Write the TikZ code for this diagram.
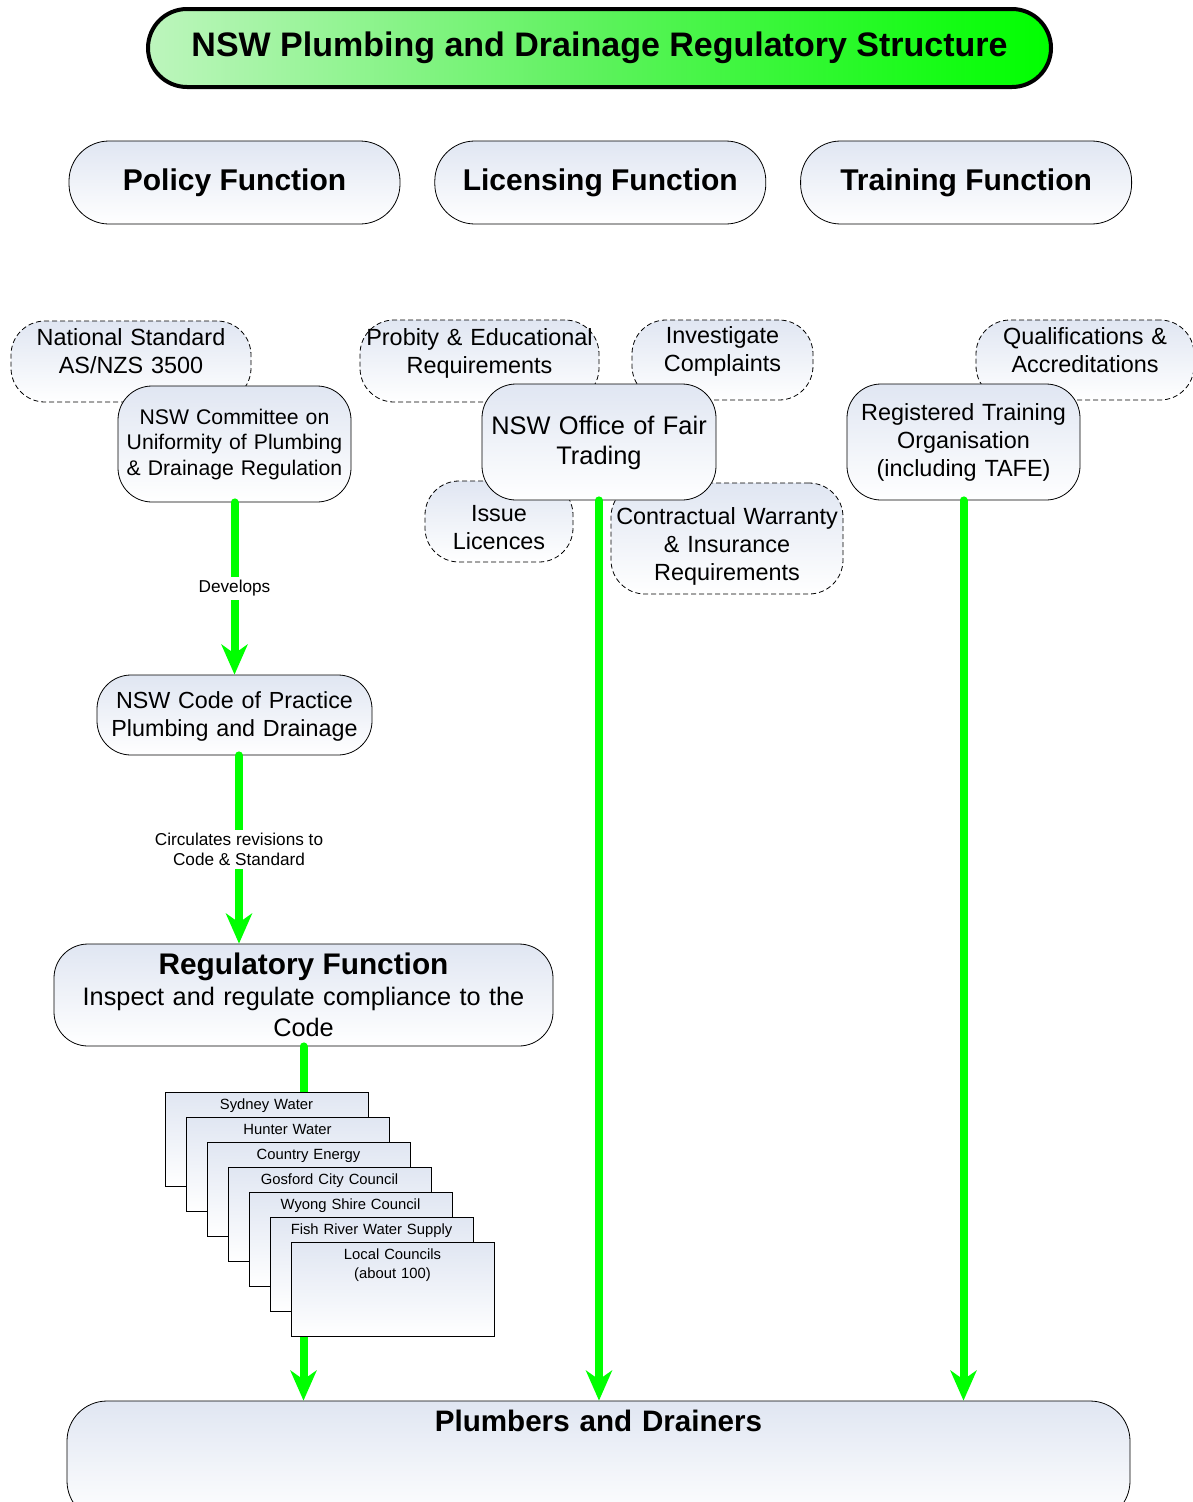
\documentclass[tikz,border=0pt]{standalone}
\usepackage{fontspec}
\setmainfont{Liberation Sans}
\usetikzlibrary{arrows.meta, positioning}
\definecolor{FlowGreen}{HTML}{00FF00}
\definecolor{TitleLight}{HTML}{BDF5BD}
\definecolor{TitleMid}{HTML}{5CF25C}
\definecolor{TitleGreen}{HTML}{00FF00}
\definecolor{BoxTint}{HTML}{E0E6F2}

\begin{document}
\begin{tikzpicture}[x=1pt, y=-1pt, >=Stealth,
        every node/.style={inner sep=0pt},
        titlebox/.style={draw=black, line width=4pt, rounded corners=39pt, minimum width=903pt, minimum height=78pt, left color=TitleLight, right color=TitleGreen, middle color=TitleMid, font=\fontsize{34}{38}\selectfont\bfseries},
        funcbox/.style={draw=black, line width=0.8pt, rounded corners=40pt, minimum width=331pt, minimum height=83pt, top color=BoxTint, bottom color=white, font=\fontsize{30}{34}\selectfont\bfseries},
        orgbox/.style={draw=black, line width=0.8pt, rounded corners=34pt, top color=BoxTint, bottom color=white, align=center, font=\fontsize{23.4}{28}\selectfont},
        notebox/.style={orgbox, dash pattern=on 5pt off 3pt},
        stackbox/.style={draw=black, line width=1pt, top color=BoxTint, bottom color=white, text width=203pt, minimum height=94pt, align=center, text height=10pt, text depth=70pt, font=\fontsize{14.8}{19}\selectfont},
        flow/.style={line width=8pt, FlowGreen, line cap=round, -{Stealth[length=30pt, width=26pt, inset=9pt]}},
        flowlabel/.style={fill=white, text=black, inner sep=3pt, align=center, font=\fontsize{17.2}{20}\selectfont}]

    \useasboundingbox (0,0) rectangle (1192,1502);

    \node[titlebox] (title) at (599.5,48) {NSW Plumbing and Drainage Regulatory Structure};

    \node[funcbox] (policy) at (234.5,182.5) {Policy Function};
    \node[funcbox, right=34pt of policy] (licensing) {Licensing Function};
    \node[funcbox, right=34pt of licensing] (training) {Training Function};

    % dashed notes sit behind the bodies
    \node[notebox, text width=240pt, minimum height=81pt, text height=16pt, text depth=48pt] (natstd) at (131,361.5) {National Standard\\AS/NZS 3500};
    \node[notebox, text width=239pt, minimum height=82pt, text height=16pt, text depth=47pt] (probity) at (479.5,361) {Probity \& Educational\\Requirements};
    \node[notebox, text width=181pt, minimum height=80pt, text height=16pt, text depth=49pt] (complaints) at (722.5,360) {Investigate\\Complaints};
    \node[notebox, text width=218pt, minimum height=80pt, text height=16pt, text depth=47pt] (quals) at (1085,360) {Qualifications \&\\Accreditations};
    \node[notebox, text width=148pt, minimum height=81pt, text height=16pt, text depth=16pt] (licences) at (499,521.5) {Issue\\Licences};
    \node[notebox, text width=232pt, minimum height=111pt, text height=16pt, text depth=44pt] (warranty) at (727,538.5) {Contractual Warranty\\\& Insurance\\Requirements};

    \node[orgbox, text width=233pt, minimum height=116pt, font=\fontsize{21.2}{25.5}\selectfont, text height=16pt, text depth=56pt] (committee) at (234.5,444) {NSW Committee on\\Uniformity of Plumbing\\\& Drainage Regulation};
    \node[orgbox, text width=234pt, minimum height=116pt, font=\fontsize{25.4}{30}\selectfont, text height=17pt, text depth=33pt] (fairtrading) at (599,442) {NSW Office of Fair\\Trading};
    \node[orgbox, text width=233pt, minimum height=116pt, text height=16pt, text depth=59pt] (rto) at (963.5,442) {Registered Training\\Organisation\\(including TAFE)};

    \node[orgbox, text width=275pt, minimum height=80pt, font=\fontsize{23.3}{28}\selectfont, text height=16pt, text depth=30pt] (code) at (234.5,715) {NSW Code of Practice\\Plumbing and Drainage};
    \node[orgbox, text width=499pt, minimum height=102pt, font=\fontsize{25.3}{31}\selectfont, text height=19pt, text depth=60pt] (regulatory) at (303.5,995) {{\fontsize{29.8}{31}\selectfont\bfseries Regulatory Function}\\Inspect and regulate compliance to the\\Code};
    \node[orgbox, rounded corners=40pt, text width=1063pt, minimum height=120pt, font=\fontsize{29.6}{32}\selectfont\bfseries, text height=19pt, text depth=78pt] (plumbers) at (598.5,1461) {Plumbers and Drainers};

    \draw[flow] (committee.south) -- node[flowlabel] (develops) {Develops} (code.north);
    \draw[flow] ([xshift=4.5pt]code.south) -- node[flowlabel] (circulates) {Circulates revisions to\\Code \& Standard} ([xshift=4.5pt]code.south |- regulatory.north);
    \draw[flow] (regulatory.south) -- (regulatory.south |- plumbers.north);
    \draw[flow] (fairtrading.south) -- (fairtrading.south |- plumbers.north);
    \draw[flow] (rto.south) -- (rto.south |- plumbers.north);

    % authorities stacked over the regulatory line
    \node[stackbox] (sydney) at (266.5,1139) {Sydney Water};
    \node[stackbox, below right=25pt and 21pt of sydney.north west] (hunter) {Hunter Water};
    \node[stackbox, below right=25pt and 21pt of hunter.north west] (country) {Country Energy};
    \node[stackbox, below right=25pt and 21pt of country.north west] (gosford) {Gosford City Council};
    \node[stackbox, below right=25pt and 21pt of gosford.north west] (wyong) {Wyong Shire Council};
    \node[stackbox, below right=25pt and 21pt of wyong.north west] (fishriver) {Fish River Water Supply};
    \node[stackbox, below right=25pt and 21pt of fishriver.north west] (councils) {Local Councils\\(about 100)};
\end{tikzpicture}
\end{document}
